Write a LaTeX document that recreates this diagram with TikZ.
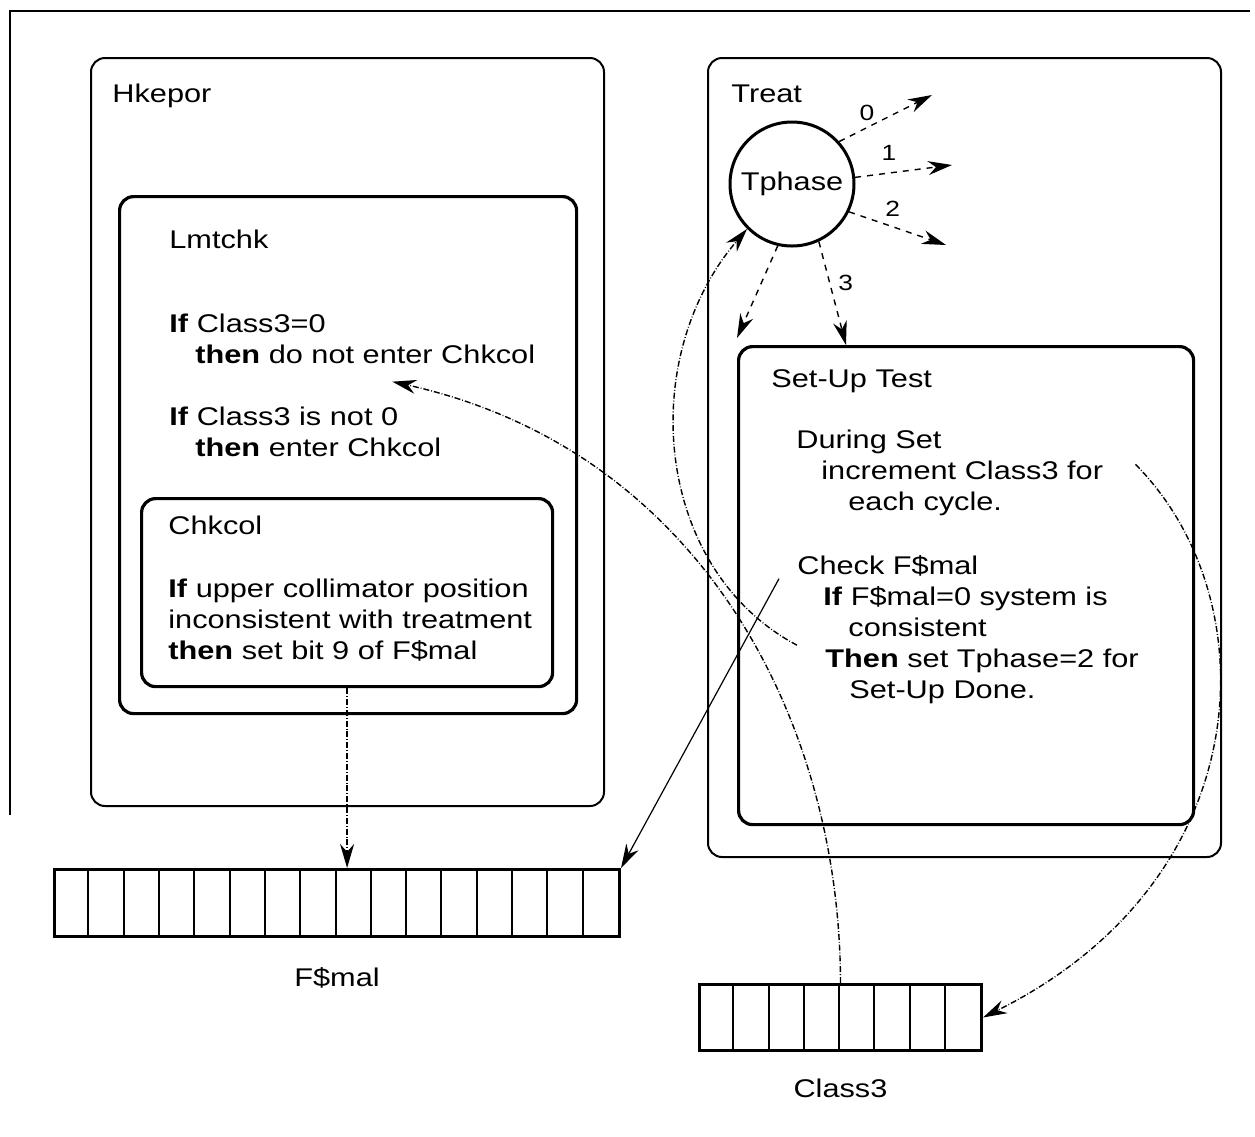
\documentclass[tikz,border=0pt]{standalone}
\usepackage{fontspec}
\setmainfont{Liberation Sans}[FakeStretch=1.2]
\usetikzlibrary{arrows.meta,positioning}

\tikzset{
  frame/.style={draw, line width=1pt, rounded corners=7pt, anchor=north west, inner sep=0pt},
  inner frame/.style={frame, line width=1.6pt},
  txt/.style={anchor=base west, align=left, inner sep=0pt},
  num/.style={font=\fontsize{11}{13}\selectfont, inner sep=1pt},
  reg/.style={draw, line width=1.5pt, anchor=north west, inner sep=0pt},
  tip/.style={-{Stealth[length=12pt,width=7pt]}},
  phase/.style={tip, dashed, line width=0.7pt},
  link/.style={tip, densely dashdotted, line width=0.7pt},
}

\begin{document}
\begin{tikzpicture}[x=0.5pt, y=-0.5pt, font=\fontsize{12.8}{15.5}\selectfont]
  \useasboundingbox (0,0) rectangle (1255,1137);
  \draw[line width=0.7pt] (10,815) -- (10,11) -- (1250,11);

  \node[frame, minimum width=256.5pt, minimum height=374pt] (hkepor) at (90,57) {};
  \node[inner frame, minimum width=228.5pt, minimum height=258.5pt] (lmtchk) at (118,195) {};
  \node[inner frame, minimum width=205.5pt, minimum height=94pt] (chkcol) at (140,497) {};
  \node[frame, minimum width=256.5pt, minimum height=399.5pt] (treat) at (707,57) {};
  \node[inner frame, minimum width=227.5pt, minimum height=239pt] (setup) at (737,345) {};

  \node[txt] (hkeporlbl) at (112,102) {Hkepor};
  \node[txt] (lmtchklbl) at (169,248) {Lmtchk};
  \node[txt] (zero) at (169,363) {\textbf{If} Class3=0\\\hspace*{13pt}\textbf{then} do not enter Chkcol};
  \node[txt] (nonzero) at (169,456) {\textbf{If} Class3 is not 0\\\hspace*{13pt}\textbf{then} enter Chkcol};
  \node[txt] (chkcollbl) at (168,534) {Chkcol};
  \node[txt] (collim) at (168,659) {\textbf{If} upper collimator position\\inconsistent with treatment\\\textbf{then} set bit 9 of F\$mal};

  \node[txt] (treatlbl) at (731,102) {Treat};
  \node[circle, draw, line width=1.5pt, minimum size=62pt, inner sep=0pt] (tphase) at (792,184) {Tphase};
  \node[txt] (setuplbl) at (771,387) {Set-Up Test};
  \node[txt] (during) at (796,510) {During Set\\\hspace*{12.5pt}increment Class3 for\\\hspace*{26pt}each cycle.};
  \node[txt] (check) at (797,698) {Check F\$mal\\\hspace*{13pt}\textbf{If} F\$mal=0 system is\\\hspace*{25.5pt}consistent\\\hspace*{14pt}\textbf{Then} set Tphase=2 for\\\hspace*{26pt}Set-Up Done.};

  \node[reg, minimum width=282.5pt, minimum height=33.5pt] (fmal) at (53,868) {};
  \foreach \i in {1,...,15}
    \draw[line width=1pt] ({53+\i*35.3125},868) -- ++(0,67);
  \node[below=11pt of fmal] (fmallbl) {F\$mal};
  \node[reg, minimum width=141pt, minimum height=33pt] (class3) at (698,983) {};
  \foreach \i in {1,...,7}
    \draw[line width=1pt] ({698+\i*35.25},983) -- ++(0,66);
  \node[below=10pt of class3] (class3lbl) {Class3};

  \coordinate (to0) at (932,95);
  \coordinate (to1) at (952,165);
  \coordinate (to2) at (946,245);
  \coordinate (toback) at (737,338);
  \draw[phase] (tphase.42) -- node[num, pos=0.3, above=2pt] (lbl0) {0} (to0);
  \draw[phase] (tphase.6) -- node[num, pos=0.35, above=5pt] (lbl1) {1} (to1);
  \draw[phase] (tphase.-26) -- node[num, pos=0.45, above=4pt] (lbl2) {2} (to2);
  \draw[phase] (tphase.-65) -- node[num, pos=0.4, right=3pt] (lbl3) {3} ([xshift=54.5pt]setup.north west);
  \draw[phase] (tphase.-103) -- (toback);

  \draw[link] (chkcol.south) -- (chkcol.south |- fmal.north);
  \draw[tip, line width=0.6pt] ([xshift=-9pt,yshift=-12pt]check.north west) -- (fmal.north east);
  \draw[link] (class3.north) .. controls (840,720) and (700,450) .. ([xshift=20pt,yshift=-9pt]zero.south);
  \draw[link] ([yshift=-8pt]check.west) .. controls (655,570) and (635,360) .. (tphase.225);
  \draw[link] ([xshift=16pt,yshift=4pt]during.east) .. controls (1270,600) and (1260,880) .. (class3.east);
\end{tikzpicture}
\end{document}
